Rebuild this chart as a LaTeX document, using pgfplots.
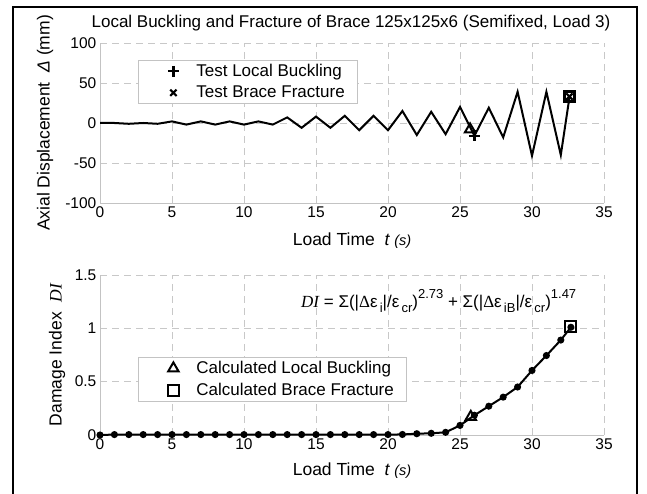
\documentclass[border=0pt]{standalone}
\usepackage{pgfplots}
\pgfplotsset{compat=1.18}
\usepackage{fontspec}
\setmainfont{Liberation Sans}
\newfontfamily\serif{Liberation Serif}
\usetikzlibrary{plotmarks}
\definecolor{axgray}{RGB}{195,195,195}
\definecolor{gridgray}{RGB}{200,200,200}
\pgfplotstableread{
t d
0 0
1 0
2 -1
3 0
4 -1
5 2
6 -2
7 2
8 -2
9 2
10 -2
11 2
12 -2
13 7
14 -6
15 8
16 -6
17 9
18 -9
19 9
20 -9
21 15
22 -15
23 14
24 -14
25 20
26 -16
27 19
28 -18
29 39
30 -41
31 39
32 -40
32.6 32
}\disptable
\pgfplotstableread{
t di
0 0.0
1 0.004
2 0.004
3 0.004
4 0.004
5 0.004
6 0.004
7 0.004
8 0.004
9 0.004
10 0.004
11 0.004
12 0.004
13 0.004
14 0.004
15 0.004
16 0.004
17 0.004
18 0.004
19 0.004
20 0.004
21 0.005
22 0.012
23 0.016
24 0.025
25 0.09
26 0.185
27 0.27
28 0.355
29 0.45
30 0.605
31 0.745
32 0.89
32.7 1.01
}\ditable
\pgfplotsset{
  mystyle/.style={
    scale only axis, width=504pt, height=160pt,
    axis x line*=bottom, axis y line*=left,
    axis line style={axgray, line width=0.9pt},
    tick style={draw=none},
    grid=major, grid style={gridgray, line width=0.7pt, dash pattern=on 7pt off 5pt},
    xmin=0, xmax=35, xtick={0,5,...,35},
    tick label style={font=\fontsize{15.5}{16}\selectfont},
    /pgf/number format/assume math mode=true,
    xticklabel style={inner sep=1pt, yshift=-2.5pt},
    yticklabel style={inner sep=1pt, xshift=-2.5pt},
    legend style={draw=axgray, line width=0.8pt, font=\fontsize{17}{18}\selectfont,
      inner xsep=10pt, inner ysep=2pt, row sep=4pt, column sep=0pt,
      nodes={inner ysep=2pt, inner xsep=3pt}},
    legend cell align=left,
    clip=false,
  },
  myleg/.style={legend image code/.code={
    \path[draw=none, fill=none] (0pt,-6pt) rectangle (45pt,6pt);
    \draw[##1, mark repeat=1, mark phase=1] plot coordinates {(25pt,0pt)};}},
}
\begin{document}
\begin{tikzpicture}[x=1pt,y=1pt]
\useasboundingbox (0,0) rectangle (647,494);
\draw[line width=1.2pt] (13,-5) -- (13,487) -- (637,487) -- (637,-5);
\node[font=\fontsize{17}{18}\selectfont, anchor=base] at (351,466) {Local Buckling and Fracture of Brace 125x125x6 (Semifixed, Load 3)};
\begin{axis}[mystyle, at={(100pt,291pt)}, anchor=south west,
  ymin=-100, ymax=100, ytick={-100,-50,0,50,100},
  xlabel={Load Time \ {\itshape t \fontsize{14.5}{14}\selectfont(s)}},
  ylabel={Axial Displacement \ {\itshape Δ} (mm)},
  every axis x label/.style={at={(axis description cs:0.5,-0.235)}, anchor=center, font=\fontsize{17.5}{18}\selectfont},
  every axis y label/.style={at={(axis description cs:-0.109,0.5)}, rotate=90, anchor=center, font=\fontsize{17.5}{18}\selectfont},
  legend style={anchor=north west, at={(axis description cs:0.0754,0.894)}},
]
\addplot[black, line width=2pt, forget plot] table[x=t,y=d] {\disptable};
\addplot[only marks, mark=+, mark size=5.5pt, line width=2.2pt, myleg] coordinates {(26,-16)};
\addplot[only marks, mark=x, mark size=4.5pt, line width=2.2pt, myleg] coordinates {(32.6,33)};
\addplot[only marks, mark=triangle, mark size=6pt, line width=2pt, forget plot] coordinates {(25.7,-8)};
\addplot[only marks, mark=square, mark size=5pt, line width=2.2pt, forget plot] coordinates {(32.6,33)};
\legend{Test Local Buckling, Test Brace Fracture}
\end{axis}
\begin{axis}[mystyle, at={(100pt,59pt)}, anchor=south west,
  ymin=0, ymax=1.5, ytick={0,0.5,1,1.5}, yticklabels={0,0.5,1,1.5},
  xlabel={Load Time \ {\itshape t \fontsize{14.5}{14}\selectfont(s)}},
  ylabel={Damage Index \ {\serif\itshape DI}},
  every axis x label/.style={at={(axis description cs:0.5,-0.22)}, anchor=center, font=\fontsize{17.5}{18}\selectfont},
  every axis y label/.style={at={(axis description cs:-0.085,0.5)}, rotate=90, anchor=center, font=\fontsize{17.5}{18}\selectfont},
  legend style={anchor=north west, at={(axis description cs:0.0754,0.487)}},
]
\addplot[black, line width=2pt, mark=*, mark size=2.5pt, forget plot] table[x=t,y=di] {\ditable};
\addplot[only marks, mark=triangle, mark size=6pt, line width=2pt, myleg] coordinates {(25.75,0.17)};
\addplot[only marks, mark=square, mark size=5.5pt, line width=2pt, myleg] coordinates {(32.7,1.02)};
\legend{Calculated Local Buckling, Calculated Brace Fracture}
\end{axis}
\node[anchor=base west, font=\fontsize{17}{18}\selectfont, inner sep=0pt] at (301,186) {{\serif\itshape DI} = Σ(|{\serif Δ}ε\raisebox{-5pt}{\fontsize{13}{13}\selectfont\,i}|/ε\raisebox{-5pt}{\fontsize{13}{13}\selectfont\,cr})\raisebox{9pt}{\fontsize{13}{13}\selectfont 2.73} + Σ(|{\serif Δ}ε\raisebox{-5pt}{\fontsize{13}{13}\selectfont\,iB}|/ε\raisebox{-5pt}{\fontsize{13}{13}\selectfont\,cr})\raisebox{9pt}{\fontsize{13}{13}\selectfont 1.47}};
\end{tikzpicture}
\end{document}
